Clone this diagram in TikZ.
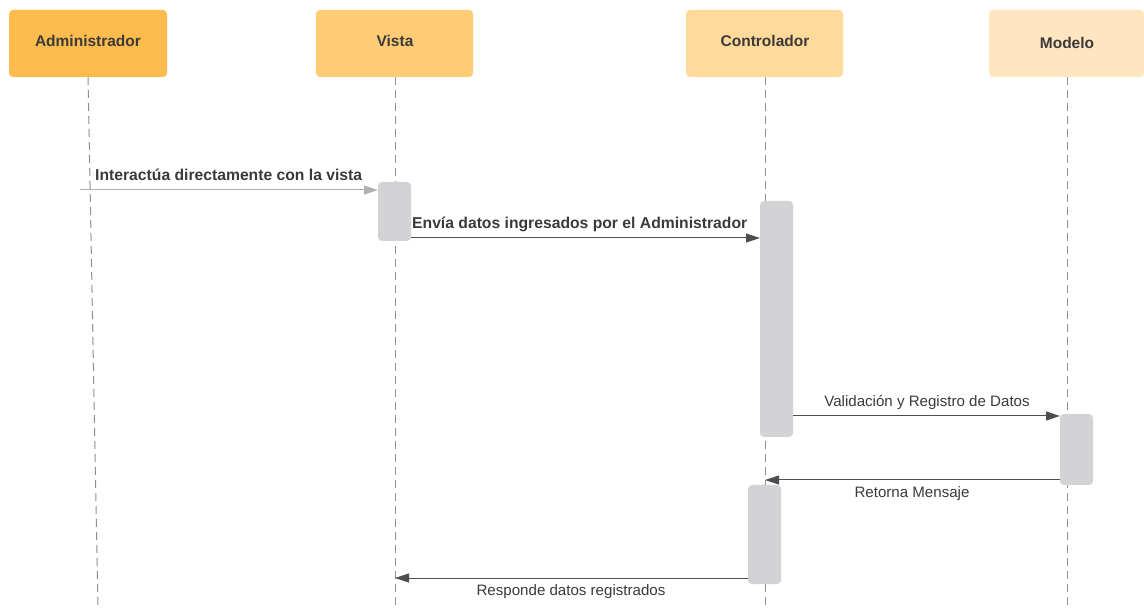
\documentclass[tikz,border=0pt]{standalone}
\usepackage{fontspec}
\setmainfont{Liberation Sans}
\usetikzlibrary{arrows.meta}
\definecolor{hA}{HTML}{FFBC4E}
\definecolor{hV}{HTML}{FFCB74}
\definecolor{hC}{HTML}{FFDA9A}
\definecolor{hM}{HTML}{FFE6C0}
\definecolor{actg}{HTML}{D3D3D5}
\definecolor{txt}{HTML}{3A3A3A}
\definecolor{lifeg}{HTML}{8E8E8E}
\tikzset{
  header/.style={draw=none, text=txt, font=\fontsize{15.5}{18}\selectfont\bfseries},
  lifeline/.style={draw=lifeg, line width=1pt, dash pattern=on 8pt off 5pt},
  actbox/.style={fill=actg, draw=none, rounded corners=4pt},
  msg/.style={draw=txt!90, line width=1pt, -{Triangle[length=14pt,width=9pt]}},
  msgb/.style={font=\fontsize{15.7}{18}\selectfont\bfseries, text=txt, inner sep=0pt},
  msgn/.style={font=\fontsize{15.1}{18}\selectfont, text=txt, inner sep=0pt},
}
\begin{document}
\begin{tikzpicture}[x=1pt,y=-1pt]
\useasboundingbox (0,0) rectangle (1144,609);
% headers
\fill[hA, rounded corners=4pt] (9,10) rectangle (167,77);
\fill[hV, rounded corners=4pt] (316,10) rectangle (473,77);
\fill[hC, rounded corners=4pt] (686,10) rectangle (843,77);
\fill[hM, rounded corners=4pt] (989,10) rectangle (1144,77);
\node[header] (admin) at (88,41) {Administrador};
\node[header] (vista) at (395,41) {Vista};
\node[header] (ctrl) at (765,41) {Controlador};
\node[header] (modelo) at (1067,43) {Modelo};
% lifelines
\coordinate (aTop) at (88,77); \coordinate (aBot) at (98,609);
\coordinate (vTop) at (395,77); \coordinate (vBot) at (395,609);
\coordinate (cTop) at (765,77); \coordinate (cBot) at (765,609);
\coordinate (mTop) at (1067,77); \coordinate (mBot) at (1067,609);
\draw[lifeline] (aTop) -- (aBot);
\draw[lifeline] (vTop) -- (vBot);
\draw[lifeline] (cTop) -- (cBot);
\draw[lifeline] (mTop) -- (mBot);
% activations
\fill[actbox] (378,182) rectangle (411,241);
\fill[actbox] (760,201) rectangle (793,437);
\fill[actbox] (1060,414) rectangle (1093,485);
\fill[actbox] (748,485) rectangle (781,584);
% messages
\coordinate (m1s) at (80,190); \coordinate (m1e) at (378,190);
\draw[msg, draw=lifeg!70] (m1s) -- (m1e);
\node[msgb, anchor=base west] (l1) at (95,181) {Interactúa directamente con la vista};
\coordinate (m2s) at (411,238); \coordinate (m2e) at (760,238);
\draw[msg] (m2s) -- (m2e);
\node[msgb, anchor=base west] (l2) at (412,229) {Envía datos ingresados por el Administrador};
\coordinate (m3s) at (793,416); \coordinate (m3e) at (1060,416);
\draw[msg] (m3s) -- (m3e);
\node[msgn, anchor=base] (l3) at (927,407) {Validación y Registro de Datos};
\coordinate (m4s) at (1060,480); \coordinate (m4e) at (765,480);
\draw[msg] (m4s) -- (m4e);
\node[msgn, anchor=base] (l4) at (912,497) {Retorna Mensaje};
\coordinate (m5s) at (748,578); \coordinate (m5e) at (395,578);
\draw[msg] (m5s) -- (m5e);
\node[msgn, anchor=base] (l5) at (571,595) {Responde datos registrados};
\end{tikzpicture}
\end{document}
